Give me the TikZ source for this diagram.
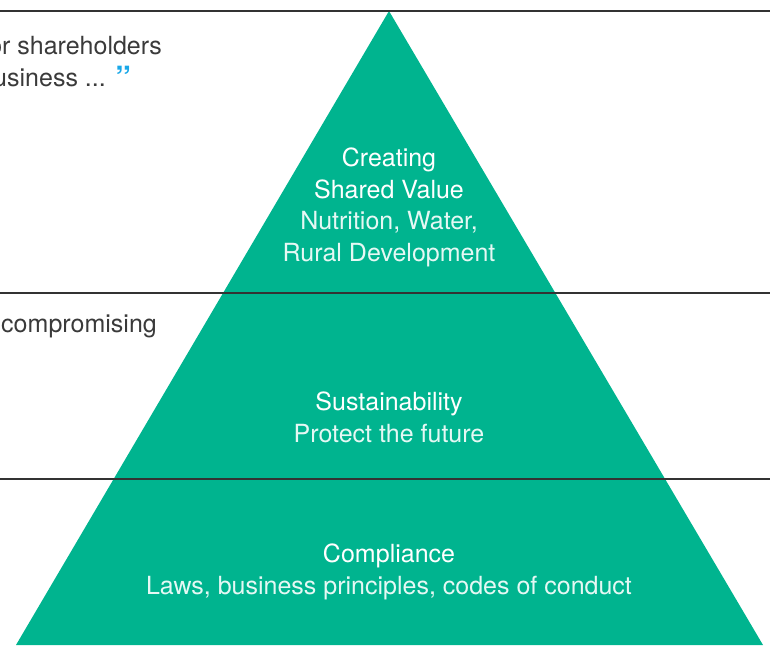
\documentclass[tikz,border=0pt]{standalone}
\usepackage{fontspec}
\setmainfont{TeX Gyre Heros}
\definecolor{pyrgreen}{HTML}{00B48F}
\definecolor{quoteblue}{HTML}{1AA8E8}
\definecolor{rulegray}{HTML}{333333}
\definecolor{sidegray}{HTML}{3A3A3A}
\tikzset{
  title/.style={text=white, font=\fontsize{25}{32}\selectfont, align=center, inner sep=0pt},
  subtitle/.style={text=white!90!pyrgreen, font=\fontsize{25}{32}\selectfont, align=center, inner sep=0pt},
  sidetext/.style={text=sidegray, font=\fontsize{25}{32}\selectfont, inner sep=0pt},
  rule/.style={draw=rulegray, line width=1.1pt}
}
\begin{document}
\begin{tikzpicture}[x=1pt,y=-1pt]
\useasboundingbox (0,0) rectangle (770,645);
% pyramid
\coordinate (apex) at (389,11);
\coordinate (bl) at (16,645);
\coordinate (br) at (763,645);
\fill[pyrgreen] (apex) -- (br) -- (bl) -- cycle;
% rules
\coordinate (r1l) at (0,11);   \coordinate (r1r) at (770,11);
\coordinate (r2l) at (0,293);  \coordinate (r2r) at (770,293);
\coordinate (r3l) at (0,479);  \coordinate (r3r) at (770,479);
\draw[rule] (r1l) -- (r1r);
\draw[rule] (r2l) -- (r2r);
\draw[rule] (r3l) -- (r3r);
% side texts
\node[sidetext, anchor=base east] (s1) at (162,54) {or shareholders};
\node[sidetext, anchor=base east] (s2) at (106,86) {usiness ...};
\node[text=quoteblue, font=\fontsize{32}{32}\selectfont\bfseries, anchor=base west, inner sep=0pt] (q) at (115,89) {”};
\node[sidetext, anchor=base east] (s3) at (157,332) {compromising};
% pyramid texts
\node[title, anchor=base] (t1a) at (389,166) {Creating};
\node[title, anchor=base] (t1b) at (389,198) {Shared Value};
\node[subtitle, anchor=base] (t1c) at (389,229) {Nutrition, Water,};
\node[subtitle, anchor=base] (t1d) at (389,261) {Rural Development};
\node[title, anchor=base] (t2a) at (389,410) {Sustainability};
\node[subtitle, anchor=base] (t2b) at (389,442) {Protect the future};
\node[title, anchor=base] (t3a) at (389,562) {Compliance};
\node[subtitle, anchor=base] (t3b) at (389,594) {Laws, business principles, codes of conduct};
\end{tikzpicture}
\end{document}
